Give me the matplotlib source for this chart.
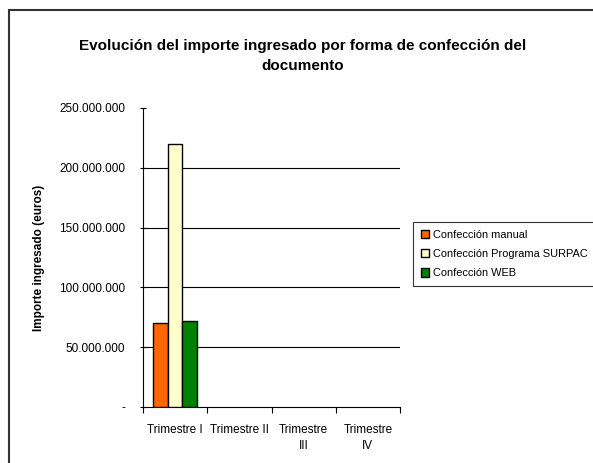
import numpy as np
import matplotlib
matplotlib.use("Agg")
import matplotlib.pyplot as plt
from matplotlib.patches import Rectangle
from matplotlib.ticker import FuncFormatter

plt.rcParams['font.family'] = ['Liberation Sans', 'DejaVu Sans']

trimestres = ["Trimestre I", "Trimestre II", "Trimestre\nIII", "Trimestre\nIV"]
series = ["Confección manual", "Confección Programa SURPAC", "Confección WEB"]
manual = [70500000, 0, 0, 0]
surpac = [219500000, 0, 0, 0]
web = [71500000, 0, 0, 0]
colores = ["#FF6600", "#FFFFCC", "#008000"]
yticks = [0, 50000000, 100000000, 150000000, 200000000, 250000000]


def fmt_miles(v, pos):
    if v == 0:
        return "-"
    return f"{int(v):,}".replace(",", ".")


fig = plt.figure(figsize=(5.93, 4.63), dpi=100)
ax = fig.add_axes([143/593, 1 - 407/463, 257/593, 299/463])

x = np.arange(len(trimestres))
w = 0.225
for i, (vals, name, col) in enumerate(zip([manual, surpac, web], series, colores)):
    edges = ["black" if v > 0 else "none" for v in vals]
    ax.bar(x + (i - 1) * w, vals, w, color=col, edgecolor=edges, linewidth=1.0,
           label=name, zorder=3)

ax.set_xlim(-0.5, len(trimestres) - 0.5)
ax.set_ylim(0, 250000000)
ax.set_yticks(yticks)
ax.yaxis.set_major_formatter(FuncFormatter(fmt_miles))
for yv in yticks[1:-1]:
    ax.axhline(yv, color="black", linewidth=0.8, zorder=1)

ax.set_xticks(np.arange(len(trimestres) + 1) - 0.5)
ax.set_xticklabels([])
ax.set_xticks(x, minor=True)
ax.set_xticklabels(trimestres, minor=True, fontsize=8.5, linespacing=1.5)
ax.tick_params(axis="x", which="major", length=4, direction="out", width=0.8)
ax.tick_params(axis="x", which="minor", length=0, pad=12)
ax.tick_params(axis="y", length=4, direction="inout", width=0.8, labelsize=8.5, pad=11)

for s in ["top", "right"]:
    ax.spines[s].set_visible(False)
for s in ["left", "bottom"]:
    ax.spines[s].set_linewidth(0.8)

ax.set_ylabel("Importe ingresado (euros)", fontsize=8.5, fontweight="bold", labelpad=10)

fig.text(0.51, 1 - 56/463, "Evolución del importe ingresado por forma de confección del\ndocumento",
         ha="center", va="center", fontsize=11, fontweight="bold", linespacing=1.6)

leg = fig.legend(loc="upper left", bbox_to_anchor=(413/593, 1 - 222/463), fontsize=7.9,
                 frameon=True, fancybox=False, edgecolor="black", handlelength=0.8,
                 handleheight=0.8, handletextpad=0.3, borderpad=0.7, labelspacing=0.85,
                 borderaxespad=0)
leg.get_frame().set_linewidth(0.8)

fig.add_artist(Rectangle((9/593, -0.1), 1.2, 1 - 10/463 + 0.1, transform=fig.transFigure,
                         fill=False, linewidth=1.5, edgecolor="#333333"))

fig.savefig("out.png", dpi=100)
